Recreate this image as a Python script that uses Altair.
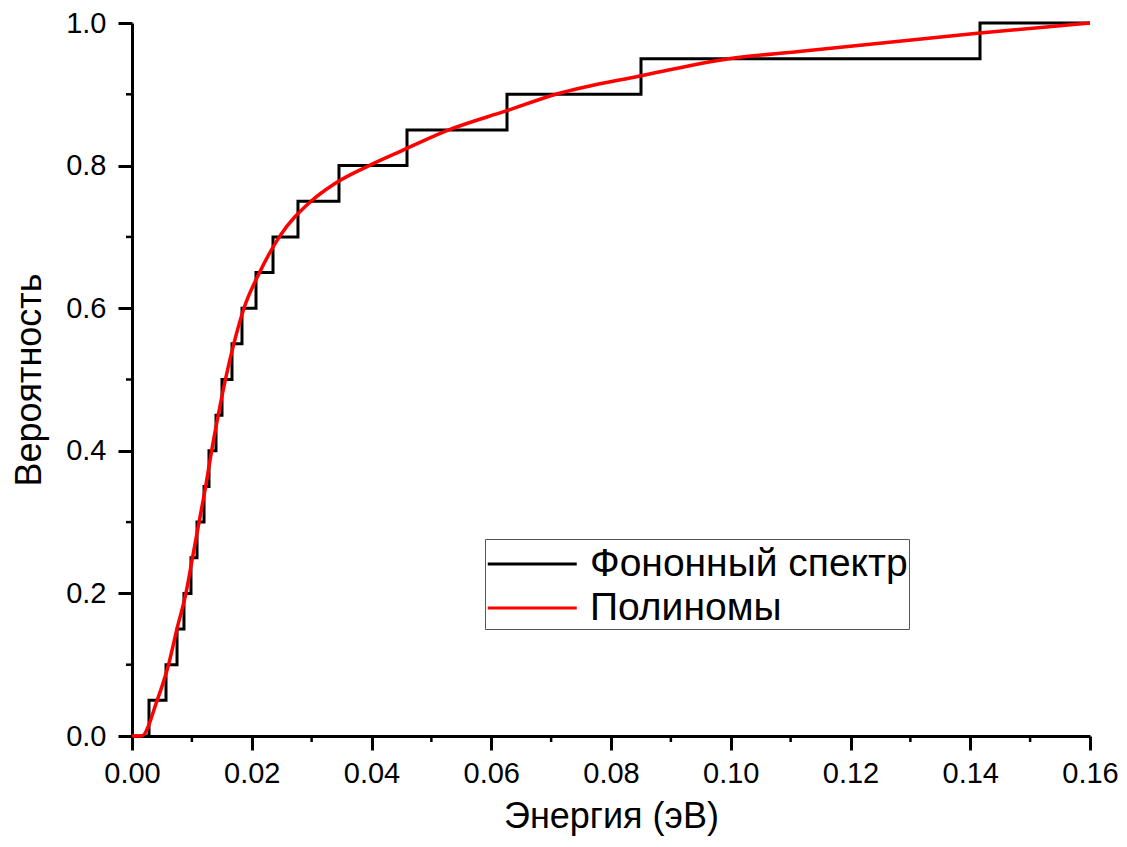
import altair as alt
import pandas as pd

# Step (phonon spectrum) data: x where the level jumps, and the level after jump
step_x = [0.0, 0.00284, 0.00568, 0.00752, 0.00868, 0.00985, 0.01086, 0.01203,
          0.01286, 0.01403, 0.01503, 0.0167, 0.01837, 0.02071, 0.02355, 0.02772,
          0.03457, 0.04593, 0.06263, 0.08501, 0.14163, 0.16]
step_y = [0.0, 0.05, 0.10, 0.15, 0.20, 0.25, 0.30, 0.35, 0.40, 0.45, 0.50,
          0.55, 0.60, 0.65, 0.70, 0.75, 0.80, 0.85, 0.90, 0.95, 1.00, 1.00]

# Polynomial fit curve
poly_x = [0.0, 0.0016, 0.0042, 0.0061, 0.0075, 0.0090, 0.0101, 0.0112, 0.0123,
          0.0133, 0.0144, 0.0156, 0.0170, 0.0187, 0.0213, 0.0246, 0.0299, 0.0339,
          0.0396, 0.0451, 0.0529, 0.0626, 0.0708, 0.0850, 0.0997, 0.1114, 0.1416,
          0.16]
poly_y = [0.0, 0.0, 0.05, 0.10, 0.15, 0.20, 0.25, 0.30, 0.35, 0.40, 0.45, 0.50,
          0.55, 0.60, 0.65, 0.70, 0.75, 0.775, 0.80, 0.821, 0.85, 0.877, 0.90,
          0.926, 0.95, 0.960, 0.986, 1.0]

x_ticks = [0.0, 0.02, 0.04, 0.06, 0.08, 0.10, 0.12, 0.14, 0.16]
y_ticks = [0.0, 0.2, 0.4, 0.6, 0.8, 1.0]
x_minor = [0.01, 0.03, 0.05, 0.07, 0.09, 0.11, 0.13, 0.15]
y_minor = [0.1, 0.3, 0.5, 0.7, 0.9]

series_names = ["Фононный спектр", "Полиномы"]
series_colors = ["#000000", "#FF0000"]

step_df = pd.DataFrame({"x": step_x, "y": step_y, "series": series_names[0]})
poly_df = pd.DataFrame({"x": poly_x, "y": poly_y, "series": series_names[1]})
xm_df = pd.DataFrame({"xm": x_minor})
ym_df = pd.DataFrame({"ym": y_minor})

FONT = "Liberation Sans"

xscale = alt.Scale(domain=[0, 0.16], nice=False, zero=False)
yscale = alt.Scale(domain=[0, 1.0], nice=False)
color = alt.Color(
    "series:N",
    scale=alt.Scale(domain=series_names, range=series_colors),
    sort=series_names,
    legend=alt.Legend(
        title=None, orient="none", legendX=353, legendY=516,
        symbolType="M-1,0H3", symbolSize=1980, symbolStrokeWidth=3,
        labelFontSize=39, labelFont=FONT, labelColor="black",
        labelOffset=56, rowPadding=0, padding=1,
        strokeColor="#555555", fillColor="white", labelLimit=600,
    ),
)

xaxis = alt.Axis(values=x_ticks, format=".2f", title="Энергия (эВ)", grid=False,
                 labelFlush=False)
yaxis = alt.Axis(values=y_ticks, format=".1f", title="Вероятность", grid=False,
                 labelFlush=False)

steps = alt.Chart(step_df).mark_line(interpolate="step-after", strokeWidth=3).encode(
    x=alt.X("x:Q", scale=xscale, axis=xaxis),
    y=alt.Y("y:Q", scale=yscale, axis=yaxis),
    color=color,
)
poly = alt.Chart(poly_df).mark_line(interpolate="monotone", strokeWidth=3.5).encode(
    x=alt.X("x:Q", scale=xscale, axis=xaxis),
    y=alt.Y("y:Q", scale=yscale, axis=yaxis),
    color=color,
)
xminor = alt.Chart(xm_df).mark_rule(color="black", strokeWidth=2.5).encode(
    x=alt.X("xm:Q", scale=xscale, axis=xaxis),
    y=alt.value(713), y2=alt.value(719),
)
yminor = alt.Chart(ym_df).mark_rule(color="black", strokeWidth=2.5).encode(
    y=alt.Y("ym:Q", scale=yscale, axis=yaxis),
    x=alt.value(0), x2=alt.value(-6),
)

chart = alt.layer(steps, poly, xminor, yminor).properties(
    width=958, height=713,
    padding={"left": 124, "top": 15, "right": 29, "bottom": 103},
    autosize="none",
).configure_view(strokeWidth=0).configure_axis(
    domainColor="black", domainWidth=3, tickColor="black", tickWidth=3,
    tickSize=14, labelFont=FONT, labelFontSize=29, labelColor="black",
    titleFont=FONT, titleFontSize=36, titleFontWeight="normal", titleColor="black",
    labelPadding=9,
).configure_axisX(titlePadding=11).configure_axisY(titlePadding=17, labelPadding=12)

chart.save("out.html", embed_options={"renderer": "svg", "actions": False})
